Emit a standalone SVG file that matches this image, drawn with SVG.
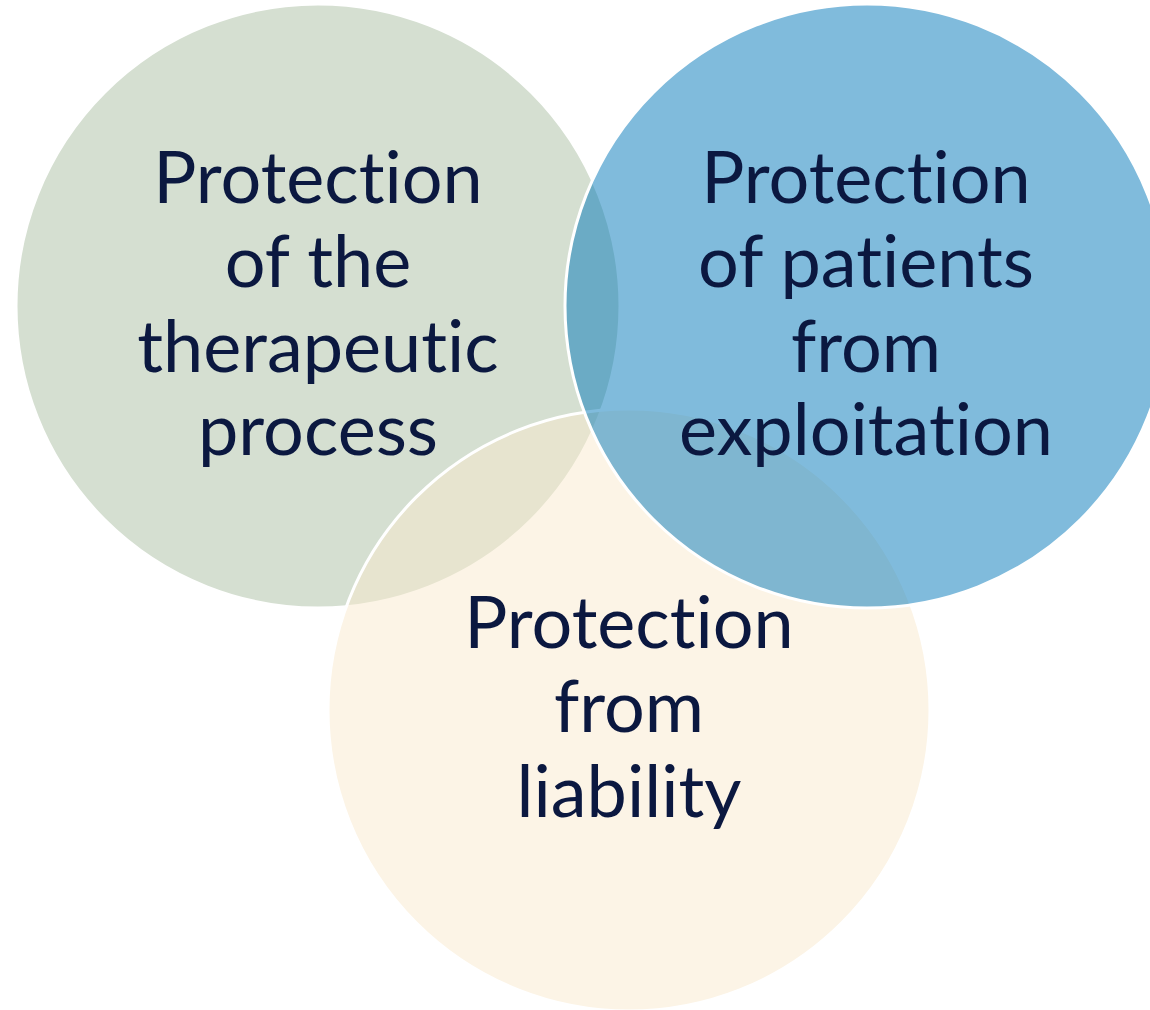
<svg xmlns="http://www.w3.org/2000/svg" width="1150" height="1010" viewBox="0 0 1150 1010">
<style>
.c{stroke:#ffffff;stroke-width:3;fill-opacity:0.5}
.t{font-family:Lato,"Liberation Sans",sans-serif;font-size:72px;fill:#0b1840;text-anchor:middle;font-variant-ligatures:none;font-feature-settings:"liga" 0,"clig" 0,"dlig" 0}
</style>
<rect width="1150" height="1010" fill="#ffffff"/>
<g id="node-therapeutic">
<circle class="c" cx="318" cy="306" r="302" fill="#abbfa3"/>
</g>
<g id="node-liability">
<circle class="c" cx="629" cy="710" r="301" fill="#f9e9cd"/>
</g>
<g id="node-exploitation">
<circle class="c" cx="867" cy="306" r="302" fill="#0177b9"/>
</g>
<g id="labels">
<text class="t" x="318" y="203">Protection</text>
<text class="t" x="318" y="287">of the</text>
<text class="t" x="318" y="372">therapeutic</text>
<text class="t" x="318" y="455">process</text>
<text class="t" x="866" y="203">Protection</text>
<text class="t" x="866" y="287">of patients</text>
<text class="t" x="866" y="372">from</text>
<text class="t" x="866" y="455">exploitation</text>
<text class="t" x="629" y="648">Protection</text>
<text class="t" x="629" y="732">from</text>
<text class="t" x="629" y="817">liability</text>
</g>
</svg>
